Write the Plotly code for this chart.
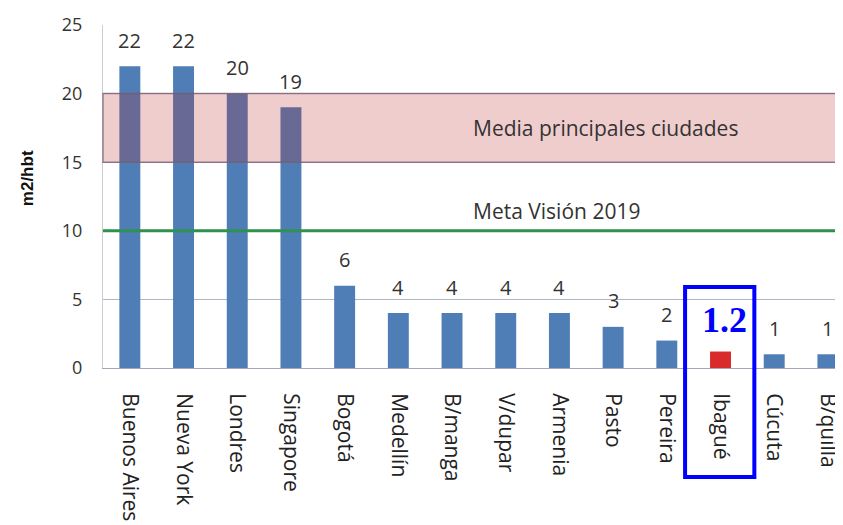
import plotly.graph_objects as go

ciudades = ["Buenos Aires", "Nueva York", "Londres", "Singapore", "Bogotá", "Medellín",
            "B/manga", "V/dupar", "Armenia", "Pasto", "Pereira", "Ibagué", "Cúcuta", "B/quilla"]
valores = [22, 22, 20, 19, 6, 4, 4, 4, 4, 3, 2, 1.2, 1, 1]
etiquetas = ["22", "22", "20", "19", "6", "4", "4", "4", "4", "3", "2", "", "1", "1"]
ciudad_destacada = "Ibagué"
media_rango = [15, 20]
meta_vision = 10
texto_media = "Media principales ciudades"
texto_meta = "Meta Visión 2019"
y_ticks = [0, 5, 10, 15, 20, 25]

AZUL = "#4F7DB5"
ROJO = "#D92B2B"
colores = [ROJO if c == ciudad_destacada else AZUL for c in ciudades]
idx_dest = ciudades.index(ciudad_destacada)

fig = go.Figure()
fig.add_trace(go.Bar(x=ciudades, y=valores, marker=dict(color=colores, line=dict(width=0)),
                     hoverinfo="x+y"))

font_fam = "'Open Sans', Lato, sans-serif"
annotations = []
for c, v, t in zip(ciudades, valores, etiquetas):
    if t:
        annotations.append(dict(x=c, y=v, text=t, showarrow=False, yshift=26,
                                yanchor="middle", font=dict(family=font_fam, size=20, color="#333333")))
# highlighted value
annotations.append(dict(x=ciudad_destacada, y=valores[idx_dest], text="<b>1.2</b>", showarrow=False,
                        yshift=32, xshift=4, yanchor="middle",
                        font=dict(family="'Liberation Serif', serif", size=36, color="#0000FF")))
annotations.append(dict(x=6.35, y=sum(media_rango) / 2, text=texto_media, showarrow=False,
                        xanchor="left", yanchor="middle",
                        font=dict(family=font_fam, size=21, color="#333333")))
annotations.append(dict(x=6.35, y=meta_vision, yshift=20, text=texto_meta, showarrow=False,
                        xanchor="left", yanchor="middle",
                        font=dict(family=font_fam, size=21, color="#333333")))
annotations.append(dict(xref="paper", yref="paper", x=-0.1, y=0.554, text="<b>m2/hbt</b>",
                        showarrow=False, textangle=-90, xanchor="center", yanchor="middle",
                        font=dict(family="'Liberation Sans', sans-serif", size=17, color="#111111")))

shapes = [
    dict(type="rect", xref="paper", yref="y", x0=0, x1=1, y0=media_rango[0], y1=media_rango[1],
         fillcolor="rgba(190,40,40,0.23)", line=dict(color="rgba(120,90,110,0.7)", width=1.5),
         layer="above"),
    dict(type="line", xref="paper", yref="y", x0=0, x1=1, y0=meta_vision, y1=meta_vision,
         line=dict(color="#2E9150", width=3), layer="above"),
    dict(type="rect", xref="x", yref="paper", x0=idx_dest - 0.66, x1=idx_dest + 0.63,
         y0=-0.318, y1=0.236, line=dict(color="#0000FF", width=4), fillcolor="rgba(0,0,0,0)",
         layer="above"),
]

# page body has an 8px margin: compensate so the plot sits where the reference has it
fig.update_layout(
    width=843, height=525,
    margin=dict(l=95, r=0, t=17, b=165),
    plot_bgcolor="white", paper_bgcolor="white",
    bargap=0.61, showlegend=False,
    annotations=annotations, shapes=shapes,
    font=dict(family=font_fam, color="#333333"),
)
fig.update_xaxes(type="category", range=[-0.5, 13.43], tickangle=90,
                 tickfont=dict(family=font_fam, size=21, color="#222222"),
                 showline=True, linecolor="#A0A8B8", linewidth=1, mirror=False,
                 ticks="outside", ticklen=20, tickcolor="rgba(0,0,0,0)", showgrid=False)
fig.update_yaxes(range=[0, 25], tickvals=y_ticks, showgrid=True, gridcolor="#AEB7C8", gridwidth=1,
                 tickfont=dict(family=font_fam, size=18, color="#333333"),
                 ticks="outside", ticklen=16, tickcolor="rgba(0,0,0,0)",
                 showline=True, linecolor="#C8CDD6", linewidth=1, zeroline=False)

fig.write_html("out.html")
